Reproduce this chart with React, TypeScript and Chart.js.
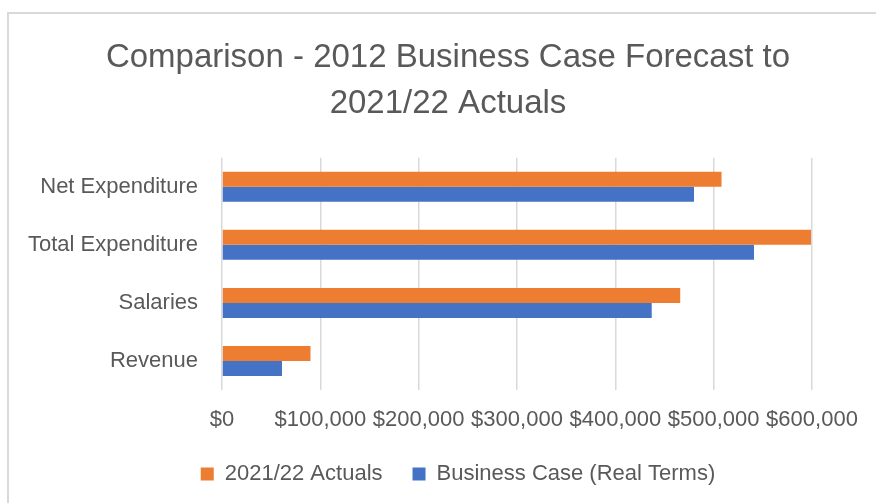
import React, { useEffect, useRef } from "react";
import { Chart, registerables } from "chart.js";

Chart.register(...registerables);

const categories = ["Net Expenditure", "Total Expenditure", "Salaries", "Revenue"];
const actuals2122 = [508000, 599000, 466000, 90000];
const businessCase = [480000, 541000, 437000, 61000];
const seriesNames = ["2021/22 Actuals", "Business Case (Real Terms)"];
const titleLines = ["Comparison - 2012 Business Case Forecast to", "2021/22 Actuals"];
const xMin = 0;
const xMax = 600000;
const xStep = 100000;

const FONT = "'Liberation Sans', Arial, sans-serif";
const TEXT = "#595959";
const GRID = "#d9d9d9";

// Centre the title and legend over the same span as in the reference.
const centerBlocks = {
  id: "centerBlocks",
  beforeDraw(chart: any) {
    const t = chart.titleBlock;
    if (t) {
      t.left = 84;
      t.right = 812;
    }
    const l = chart.legend;
    if (l) {
      l.left = 94;
      l.right = 822;
    }
  },
};

export default function App() {
  const ref = useRef<HTMLCanvasElement | null>(null);

  useEffect(() => {
    document.body.style.margin = "0";
    const ctx = ref.current!.getContext("2d")!;
    const chart = new Chart(ctx, {
      type: "bar",
      data: {
        labels: categories,
        datasets: [
          { label: seriesNames[0], data: actuals2122, backgroundColor: "#ED7D31", borderWidth: 0 },
          { label: seriesNames[1], data: businessCase, backgroundColor: "#4472C4", borderWidth: 0 },
        ],
      },
      plugins: [centerBlocks],
      options: {
        indexAxis: "y",
        animation: false,
        responsive: false,
        maintainAspectRatio: false,
        datasets: { bar: { categoryPercentage: 0.517, barPercentage: 1 } },
        layout: { padding: { left: 20, right: 64, top: 0, bottom: 8 } },
        scales: {
          x: {
            min: xMin,
            max: xMax,
            ticks: {
              stepSize: xStep,
              color: TEXT,
              font: { family: FONT, size: 22 },
              padding: 17,
              maxRotation: 0,
              callback: (v: any) => "$" + Number(v).toLocaleString("en-US"),
            },
            grid: { color: GRID, lineWidth: 1.5, drawTicks: false },
            border: { display: false },
            afterFit: (s: any) => {
              s.height = 43;
            },
          },
          y: {
            ticks: { color: TEXT, font: { family: FONT, size: 22 }, padding: 24 },
            grid: { display: false, drawTicks: false },
            border: { display: false },
            afterFit: (s: any) => {
              s.width = 202;
            },
          },
        },
        plugins: {
          title: {
            display: true,
            text: titleLines,
            color: TEXT,
            font: { family: FONT, size: 33, weight: "normal", lineHeight: 1.39 },
            padding: { top: 35, bottom: 31 },
          },
          legend: {
            display: true,
            position: "bottom",
            labels: { color: TEXT, font: { family: FONT, size: 22 }, boxWidth: 13, boxHeight: 13, padding: 30 },
          },
          tooltip: { enabled: false },
        },
      },
    });
    return () => chart.destroy();
  }, []);

  return (
    <div style={{ position: "fixed", left: 0, top: 0, width: 876, height: 503, background: "#fff", overflow: "hidden" }}>
      <div
        style={{
          position: "absolute",
          left: 7,
          top: 12,
          width: 900,
          height: 520,
          border: `2px solid ${GRID}`,
          boxSizing: "border-box",
        }}
      />
      <canvas ref={ref} width={876} height={503} style={{ position: "absolute", left: 0, top: 0 }} />
    </div>
  );
}
